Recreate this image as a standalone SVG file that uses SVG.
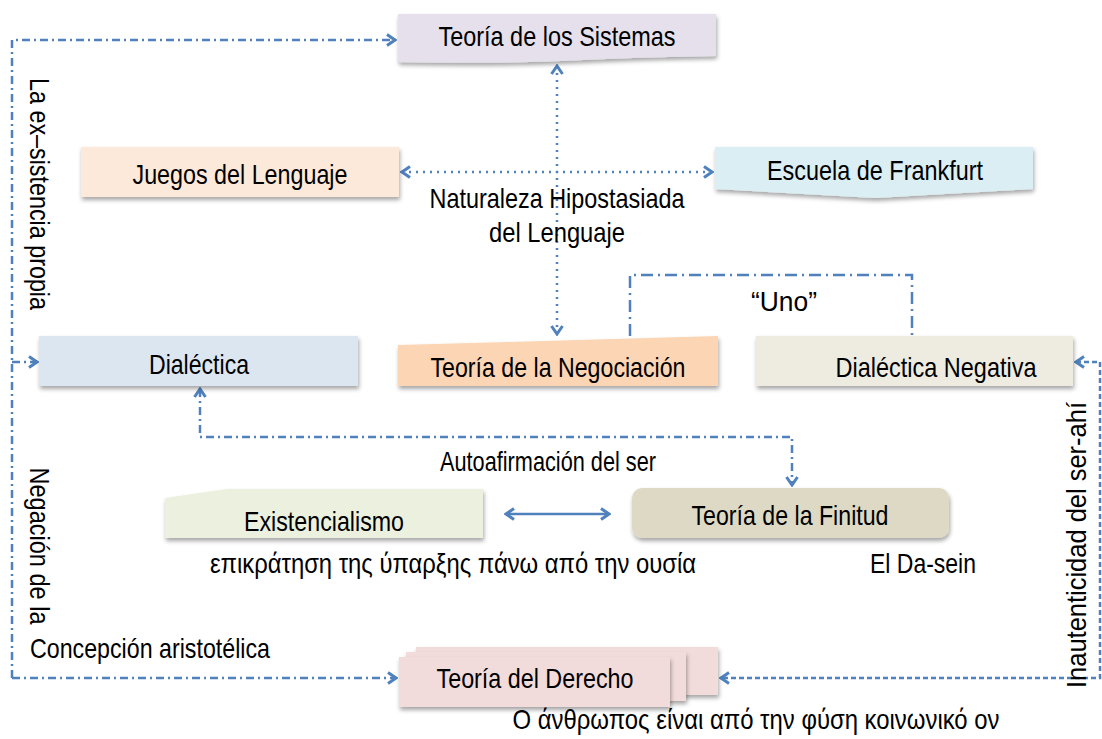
<svg xmlns="http://www.w3.org/2000/svg" width="1102" height="739" viewBox="0 0 1102 739">
<style>
text{font-family:"Liberation Sans",Arial,sans-serif;font-size:28px;fill:#000;}
.t{text-anchor:middle;}
.c{fill:none;stroke:#4f81bd;stroke-width:2.5;}
.dd{stroke-dasharray:8 4 2 4;}
.ddl{stroke-dasharray:12 5 2 5;}
.dot{stroke-dasharray:2 5;}
.dash{stroke-dasharray:5 3;}
.box{filter:url(#sh);}
</style>
<defs>
<filter id="sh" x="-10%" y="-20%" width="120%" height="160%">
<feDropShadow dx="1" dy="3" stdDeviation="2" flood-color="#000" flood-opacity="0.35"/>
</filter>
<marker id="ar" viewBox="0 0 12 14" refX="10" refY="7" markerWidth="12" markerHeight="14" markerUnits="userSpaceOnUse" orient="auto-start-reverse">
<path d="M2,1.5 L10,7 L2,12.5" fill="none" stroke="#4f81bd" stroke-width="3"/>
</marker>
</defs>

<g id="connectors">
<path class="c dd" d="M12,678 V40 H395" marker-end="url(#ar)"/>
<path class="c dd" d="M12,362 H37" marker-end="url(#ar)"/>
<path class="c dd" d="M12,678 H396" marker-end="url(#ar)"/>
<path class="c dot" d="M557,66 V334" marker-start="url(#ar)" marker-end="url(#ar)"/>
<path class="c dot" d="M402,172 H712" marker-start="url(#ar)" marker-end="url(#ar)"/>
<path class="c ddl" d="M630,336 V275 H912 V336"/>
<path class="c dd" d="M200,389 V437 H792 V485" marker-start="url(#ar)" marker-end="url(#ar)"/>
<path class="c" d="M506,514 H609" marker-start="url(#ar)" marker-end="url(#ar)"/>
<path class="c dash" d="M1076,362 H1100 V678 H721" marker-start="url(#ar)" marker-end="url(#ar)"/>
</g>

<g id="n-sistemas">
<path class="box" d="M398,14 H716 V56 Q640,57 560,61 Q480,64 398,62 Z" fill="#e5e0ec"/>
<text class="t" x="557" y="46" textLength="237" lengthAdjust="spacingAndGlyphs">Teoría de los Sistemas</text>
</g>

<g id="n-juegos">
<rect class="box" x="81" y="147" width="318" height="50" fill="#fde9d9"/>
<text class="t" x="240" y="184" textLength="215" lengthAdjust="spacingAndGlyphs">Juegos del Lenguaje</text>
</g>

<g id="n-frankfurt">
<path class="box" d="M715,147 H1033 V189 L875,198 L715,189 Z" fill="#dbeef3"/>
<text class="t" x="875" y="180" textLength="216" lengthAdjust="spacingAndGlyphs">Escuela de Frankfurt</text>
</g>

<g id="n-dialectica">
<rect class="box" x="39" y="336" width="319" height="50" fill="#dce6f1"/>
<text class="t" x="199" y="374" textLength="100" lengthAdjust="spacingAndGlyphs">Dialéctica</text>
</g>

<g id="n-negociacion">
<path class="box" d="M398,345 L718,336 V386 H398 Z" fill="#fcd5b5"/>
<text class="t" x="558" y="377" textLength="255" lengthAdjust="spacingAndGlyphs">Teoría de la Negociación</text>
</g>

<g id="n-negativa">
<rect class="box" x="756" y="336" width="317" height="50" fill="#eeece1"/>
<text class="t" x="936" y="377" textLength="201" lengthAdjust="spacingAndGlyphs">Dialéctica Negativa</text>
</g>

<g id="n-existencialismo">
<path class="box" d="M165,498 L227,489 H483 V538 H165 Z" fill="#ebf1de"/>
<text class="t" x="324" y="531" textLength="160" lengthAdjust="spacingAndGlyphs">Existencialismo</text>
</g>

<g id="n-finitud">
<rect class="box" x="632" y="488" width="317" height="50" rx="10" fill="#ddd9c4"/>
<text class="t" x="790" y="525" textLength="197" lengthAdjust="spacingAndGlyphs">Teoría de la Finitud</text>
</g>

<g id="n-derecho">
<rect class="box" x="416" y="647" width="302" height="48" fill="#f2dcdb"/>
<rect class="box" x="406" y="652" width="280" height="49" fill="#f2dcdb"/>
<rect class="box" x="399" y="657" width="271" height="50" fill="#f2dcdb"/>
<text class="t" x="535" y="688" textLength="197" lengthAdjust="spacingAndGlyphs">Teoría del Derecho</text>
</g>

<g id="labels">
<text class="t" x="557" y="208" textLength="255" lengthAdjust="spacingAndGlyphs">Naturaleza Hipostasiada</text>
<text class="t" x="557" y="242" textLength="136" lengthAdjust="spacingAndGlyphs">del Lenguaje</text>
<text class="t" x="784" y="311" textLength="66" lengthAdjust="spacingAndGlyphs">“Uno”</text>
<text class="t" x="548" y="471" textLength="216" lengthAdjust="spacingAndGlyphs">Autoafirmación del ser</text>
<text class="t" x="453" y="573" textLength="486" lengthAdjust="spacingAndGlyphs">επικράτηση της ύπαρξης πάνω από την ουσία</text>
<text class="t" x="923" y="573" textLength="106" lengthAdjust="spacingAndGlyphs">El Da-sein</text>
<text class="t" x="150" y="658" textLength="240" lengthAdjust="spacingAndGlyphs">Concepción aristotélica</text>
<text class="t" x="756" y="729" textLength="487" lengthAdjust="spacingAndGlyphs">O άνθρωπος είναι από την φύση κοινωνικό ον</text>
<text class="t" transform="translate(30,194) rotate(90)" x="0" y="0" textLength="232" lengthAdjust="spacingAndGlyphs">La ex–sistencia propia</text>
<text class="t" transform="translate(30,546) rotate(90)" x="0" y="0" textLength="157" lengthAdjust="spacingAndGlyphs">Negación de la</text>
<text class="t" transform="translate(1086,545) rotate(-90)" x="0" y="0" textLength="286" lengthAdjust="spacingAndGlyphs">Inautenticidad del ser-ahí</text>
</g>
</svg>
